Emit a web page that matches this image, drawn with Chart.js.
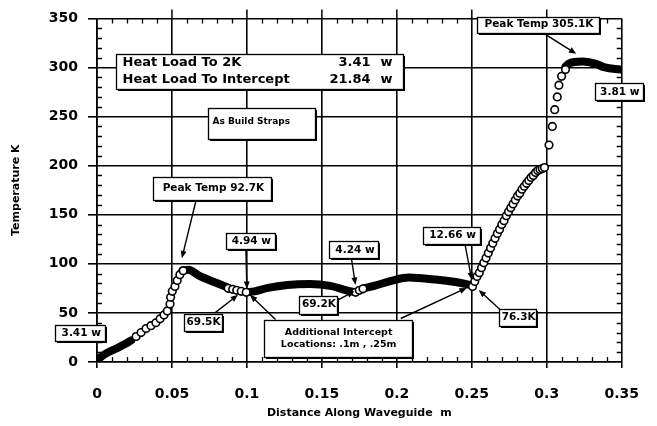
<!DOCTYPE html>
<html>
<head>
<meta charset="utf-8">
<script src="https://cdn.jsdelivr.net/npm/chart.js@4.4.1/dist/chart.umd.min.js"></script>
<style>
    html, body { margin: 0; padding: 0; background: #fff; }
    #area { width: 657px; height: 426px; }
</style>
</head>
<body>
<div id="area"><canvas id="grafico" width="657" height="426"></canvas></div>
<script>
// =========================================
// DADOS DO GRÁFICO
// =========================================

// Marcas dos eixos
const ticksX = [0, 0.05, 0.1, 0.15, 0.2, 0.25, 0.3, 0.35];
const ticksY = [0, 50, 100, 150, 200, 250, 300, 350];

// Trechos com pontos muito densos (aparecem como traço grosso)
const distTrecho1 = [0, 0.0053, 0.0118, 0.0184, 0.0228];
const tempTrecho1 = [2, 8, 13, 18, 22];

const distTrecho2 = [0.057, 0.061, 0.068, 0.079, 0.087];
const tempTrecho2 = [93, 94, 88, 81, 76];

const distTrecho3 = [0.1, 0.105, 0.114, 0.127, 0.142, 0.1555, 0.1664, 0.171];
const tempTrecho3 = [71, 72, 75.5, 78.5, 79.5, 77.5, 73, 71.5];

const distTrecho4 = [0.178, 0.186, 0.197, 0.208, 0.2257, 0.241, 0.25];
const tempTrecho4 = [75, 78, 83, 86, 84, 81, 78];

const distTrecho5 = [0.3125, 0.3147, 0.3235, 0.3322, 0.3388, 0.349];
const tempTrecho5 = [301, 304, 306, 304, 300, 298];

// Pontos isolados (círculos abertos)
const distCirculos = [
    0.0261, 0.0294, 0.0327, 0.0360, 0.0393, 0.0421, 0.0447, 0.0469, 0.0487, 0.0491,
    0.0502, 0.0520, 0.0535, 0.0553, 0.0575,
    0.0875, 0.0905, 0.0932, 0.0962, 0.0995,
    0.1725, 0.1750, 0.1774,
    0.2505, 0.2520, 0.2535, 0.2550, 0.2565, 0.2580, 0.2595, 0.2610, 0.2625, 0.2640,
    0.2655, 0.2670, 0.2685, 0.2700, 0.2715, 0.2730, 0.2745, 0.2760, 0.2775, 0.2790,
    0.2805, 0.2820, 0.2835, 0.2850, 0.2865, 0.2880, 0.2895, 0.2910, 0.2925, 0.2940,
    0.2955, 0.2970, 0.2985,
    0.3015, 0.3037, 0.3053, 0.3070, 0.3081, 0.3099, 0.3125
];
const tempCirculos = [
    26, 30, 34, 37, 40, 44, 48, 52, 59, 66,
    72, 77, 83, 89, 93,
    75, 74, 73, 72, 71,
    71, 73, 74.5,
    77, 82, 87, 91, 96, 101, 106, 111, 116, 121,
    126, 131, 135, 140, 144, 149, 153, 157, 161, 165,
    169, 172, 176, 179, 182, 185, 188, 190, 193, 195,
    196, 197, 198,
    221, 240, 257, 270, 282, 291, 298
];

// Caixas de texto (centro em coordenadas dos eixos)
const caixas = [
    { linhas: ["Heat Load To 2K", "Heat Load To Intercept"], valores: ["3.41", "21.84"], x: 0.1082, y: 296.3, w: 287, h: 35, fonte: 13 },
    { linhas: ["As Build Straps"], x: 0.1095, y: 243, w: 107, h: 31, fonte: 9, esquerda: true },
    { linhas: ["Peak Temp 92.7K"], x: 0.077, y: 176.6, w: 118, h: 23, fonte: 10.5 },
    { linhas: ["4.94 w"], x: 0.1023, y: 123.2, w: 49, h: 16, fonte: 10.5 },
    { linhas: ["69.5K"], x: 0.0704, y: 40.7, w: 38, h: 17, fonte: 10.5 },
    { linhas: ["69.2K"], x: 0.1474, y: 58.4, w: 38, h: 18, fonte: 10.5 },
    { linhas: ["4.24 w"], x: 0.1714, y: 114.2, w: 49, h: 17, fonte: 10.5 },
    { linhas: ["Additional Intercept", "Locations: .1m , .25m"], x: 0.1605, y: 23.6, w: 148, h: 37, fonte: 9.5 },
    { linhas: ["12.66 w"], x: 0.2365, y: 129.3, w: 57, h: 17, fonte: 10.5 },
    { linhas: ["76.3K"], x: 0.2806, y: 45.8, w: 37, h: 17, fonte: 10.5 },
    { linhas: ["3.41 w"], x: -0.0112, y: 29.7, w: 50, h: 16, fonte: 10.5 },
    { linhas: ["Peak Temp 305.1K"], x: 0.2941, y: 343.6, w: 122, h: 16, fonte: 10.5 },
    { linhas: ["3.81 w"], x: 0.348, y: 275.2, w: 48, h: 17, fonte: 10.5 }
];

// Setas (de -> para, em coordenadas dos eixos)
const setas = [
    { de: [0.0658, 163], para: [0.0566, 105.6] },
    { de: [0.0993, 115.7], para: [0.1, 74.4] },
    { de: [0.0789, 50.3], para: [0.0941, 68.4] },
    { de: [0.1599, 62.4], para: [0.1717, 72] },
    { de: [0.1697, 105.6], para: [0.1724, 78.5] },
    { de: [0.1191, 43.3], para: [0.102, 68.4] },
    { de: [0.2026, 44.3], para: [0.2467, 75.5] },
    { de: [0.2454, 120.7], para: [0.25, 83.5] },
    { de: [0.2697, 52.3], para: [0.2546, 73.4] },
    { de: [0.2967, 336], para: [0.3197, 313.9] }
];

const FONTE = "DejaVu Sans";

// Junta duas listas em pontos {x, y}
function pares(xs, ys) {
    return xs.map((v, i) => ({ x: v, y: ys[i] }));
}

// =========================================
// DESENHO DE SETAS E CAIXAS
// =========================================
function desenhaSeta(ctx, x1, y1, x2, y2) {
    const ang = Math.atan2(y2 - y1, x2 - x1);
    const tam = 8;
    ctx.beginPath();
    ctx.moveTo(x1, y1);
    ctx.lineTo(x2 - tam * 0.7 * Math.cos(ang), y2 - tam * 0.7 * Math.sin(ang));
    ctx.stroke();
    ctx.beginPath();
    ctx.moveTo(x2, y2);
    ctx.lineTo(x2 - tam * Math.cos(ang - 0.38), y2 - tam * Math.sin(ang - 0.38));
    ctx.lineTo(x2 - tam * Math.cos(ang + 0.38), y2 - tam * Math.sin(ang + 0.38));
    ctx.closePath();
    ctx.fill();
}

const pluginAnotacoes = {
    id: "anotacoes",
    beforeDatasetsDraw(chart) {
        const { ctx, chartArea, scales } = chart;
        const sx = scales.x, sy = scales.y;
        ctx.save();
        ctx.strokeStyle = "#000";
        ctx.lineWidth = 1.3;
        // Marcas menores para dentro, nos quatro lados
        for (let i = 1; i < 35; i++) {
            if (i % 5 === 0) continue;
            const px = Math.round(sx.getPixelForValue(i / 100)) + 0.5;
            ctx.beginPath();
            ctx.moveTo(px, chartArea.bottom); ctx.lineTo(px, chartArea.bottom - 5);
            ctx.moveTo(px, chartArea.top); ctx.lineTo(px, chartArea.top + 5);
            ctx.stroke();
        }
        for (let i = 1; i < 35; i++) {
            if (i % 5 === 0) continue;
            const py = Math.round(sy.getPixelForValue(i * 10)) + 0.5;
            ctx.beginPath();
            ctx.moveTo(chartArea.left, py); ctx.lineTo(chartArea.left + 5, py);
            ctx.moveTo(chartArea.right, py); ctx.lineTo(chartArea.right - 5, py);
            ctx.stroke();
        }
        // Linhas de grade verticais passam um pouco do topo
        ctx.lineWidth = 1.5;
        ticksX.slice(1, -1).forEach(v => {
            const px = sx.getPixelForValue(v);
            ctx.beginPath();
            ctx.moveTo(px, chartArea.top); ctx.lineTo(px, chartArea.top - 9);
            ctx.stroke();
        });
        ctx.restore();
    },
    afterDatasetsDraw(chart) {
        const { ctx, scales } = chart;
        const sx = scales.x, sy = scales.y;
        ctx.save();
        ctx.strokeStyle = "#000";
        ctx.fillStyle = "#000";
        ctx.lineWidth = 1.4;

        setas.forEach(s => {
            desenhaSeta(ctx,
                sx.getPixelForValue(s.de[0]), sy.getPixelForValue(s.de[1]),
                sx.getPixelForValue(s.para[0]), sy.getPixelForValue(s.para[1]));
        });

        caixas.forEach(c => {
            const cx = sx.getPixelForValue(c.x);
            const cy = sy.getPixelForValue(c.y);
            const esq = Math.round(cx - c.w / 2) + 0.5;
            const topo = Math.round(cy - c.h / 2) + 0.5;

            // sombra
            ctx.fillStyle = "#000";
            ctx.fillRect(esq + 1.5, topo + 1.5, c.w, c.h);
            ctx.fillStyle = "#fff";
            ctx.fillRect(esq, topo, c.w, c.h);
            ctx.lineWidth = 1.3;
            ctx.strokeRect(esq, topo, c.w, c.h);

            ctx.fillStyle = "#000";
            ctx.font = "bold " + c.fonte + "px '" + FONTE + "'";
            ctx.textBaseline = "middle";
            const passo = c.fonte * 1.25;
            const y0 = cy - passo * (c.linhas.length - 1) / 2;

            c.linhas.forEach((txt, i) => {
                const ly = y0 + i * passo;
                if (c.valores) {
                    ctx.textAlign = "left";
                    ctx.fillText(txt, esq + 6, ly);
                    ctx.textAlign = "right";
                    ctx.fillText(c.valores[i], esq + c.w - 33, ly);
                    ctx.fillText("w", esq + c.w - 11, ly);
                } else if (c.esquerda) {
                    ctx.textAlign = "left";
                    ctx.fillText(txt, esq + 4, ly - 2);
                } else {
                    ctx.textAlign = "center";
                    ctx.fillText(txt, cx + 1, ly);
                }
            });
        });
        ctx.restore();
    }
};

// =========================================
// CRIA O GRÁFICO
// =========================================
function criarGrafico() {
    const el = document.getElementById("grafico");
    if (!el || typeof Chart === "undefined") return;

    Chart.defaults.font.family = FONTE;
    Chart.defaults.color = "#000";

    const estiloTrecho = {
        showLine: true,
        borderColor: "#000",
        borderWidth: 8,
        pointRadius: 0,
        cubicInterpolationMode: "monotone",
        borderCapStyle: "round",
        borderJoinStyle: "round",
        fill: false
    };

    new Chart(el, {
        type: "scatter",
        data: {
            datasets: [
                {
                    label: "pontos",
                    data: pares(distCirculos, tempCirculos),
                    pointRadius: 3.8,
                    pointBorderWidth: 1.6,
                    pointBorderColor: "#000",
                    pointBackgroundColor: "#fff",
                    showLine: false
                },
                Object.assign({ label: "t1", data: pares(distTrecho1, tempTrecho1) }, estiloTrecho),
                Object.assign({ label: "t2", data: pares(distTrecho2, tempTrecho2) }, estiloTrecho),
                Object.assign({ label: "t3", data: pares(distTrecho3, tempTrecho3) }, estiloTrecho),
                Object.assign({ label: "t4", data: pares(distTrecho4, tempTrecho4) }, estiloTrecho),
                Object.assign({ label: "t5", data: pares(distTrecho5, tempTrecho5) }, estiloTrecho)
            ]
        },
        options: {
            responsive: false,
            animation: false,
            devicePixelRatio: 1,
            layout: { padding: { top: 14, right: 28, left: 0, bottom: 0 } },
            plugins: {
                legend: { display: false },
                tooltip: { enabled: false }
            },
            scales: {
                x: {
                    type: "linear",
                    min: 0,
                    max: 0.35,
                    afterBuildTicks: eixo => { eixo.ticks = ticksX.map(v => ({ value: v })); },
                    afterFit: eixo => { eixo.height = 64; },
                    grid: { color: "#000", lineWidth: 1.6, tickLength: 6, tickColor: "#000", tickWidth: 1.6 },
                    border: { color: "#000", width: 1.6 },
                    ticks: {
                        font: { size: 14, weight: "bold" },
                        color: "#000",
                        padding: 18,
                        maxRotation: 0,
                        autoSkip: false,
                        callback: v => String(+Number(v).toFixed(2))
                    },
                    title: {
                        display: true,
                        text: "Distance Along Waveguide  m",
                        font: { size: 11, weight: "bold" },
                        color: "#000",
                        padding: { top: 0, bottom: 6 }
                    }
                },
                y: {
                    type: "linear",
                    min: 0,
                    max: 350,
                    afterBuildTicks: eixo => { eixo.ticks = ticksY.map(v => ({ value: v })); },
                    afterFit: eixo => { eixo.width = 97; },
                    grid: { color: "#000", lineWidth: 1.6, tickLength: 9, tickColor: "#000", tickWidth: 1.6 },
                    border: { color: "#000", width: 1.6 },
                    ticks: {
                        font: { size: 14, weight: "bold" },
                        color: "#000",
                        padding: 10,
                        autoSkip: false
                    },
                    title: {
                        display: true,
                        text: "Temperature K",
                        font: { size: 11, weight: "bold" },
                        color: "#000",
                        padding: { top: 10, bottom: 0 }
                    }
                }
            }
        },
        plugins: [pluginAnotacoes]
    });
}

window.addEventListener("DOMContentLoaded", criarGrafico);
</script>
</body>
</html>
